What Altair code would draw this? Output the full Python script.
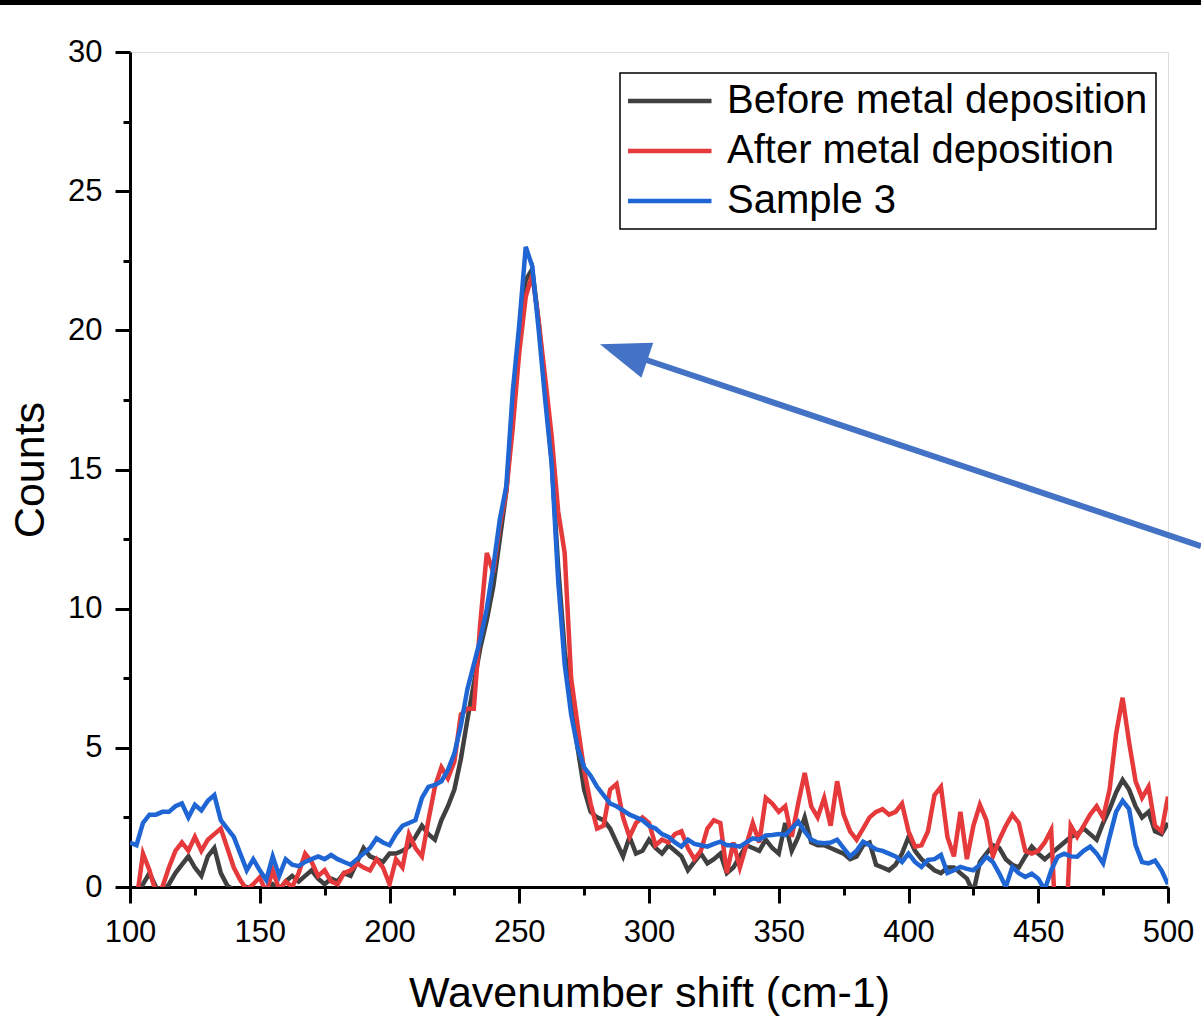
import altair as alt
import pandas as pd

# ---------------- data ----------------
wavenumber = [100 + 2.5 * i for i in range(161)]

before = [
    -0.3, -0.2, 0.1, 0.5, 0.0, -0.2, 0.1, 0.5, 0.8, 1.1,
    0.7, 0.4, 1.1, 1.4, 0.5, 0.05, -0.1, -0.2, 0.0, -0.1,
    -0.3, -0.1, 0.1, -0.1, 0.2, 0.4, 0.2, 0.4, 0.6, 0.3,
    0.1, 0.3, 0.2, 0.5, 0.4, 0.9, 1.4, 1.1, 1.0, 0.9,
    1.2, 1.2, 1.3, 1.45, 1.8, 2.2, 1.9, 1.7, 2.4, 2.9,
    3.5, 4.6, 6.0, 7.3, 8.6, 9.6, 10.8, 12.5, 14.2, 17.0,
    19.8, 21.8, 22.2, 20.3, 17.8, 15.3, 11.5, 8.5, 6.5, 5.0,
    3.5, 2.7, 2.5, 2.4, 2.1, 1.6, 1.1, 1.8, 1.2, 1.3,
    1.7, 1.4, 1.2, 1.5, 1.3, 1.1, 0.6, 0.9, 1.2, 0.85,
    1.0, 1.2, 0.5, 0.7, 1.1, 1.5, 1.4, 1.3, 1.7, 1.4,
    1.2, 2.3, 1.3, 1.8, 2.5, 1.6, 1.5, 1.5, 1.4, 1.3,
    1.2, 1.0, 1.1, 1.5, 1.6, 0.8, 0.7, 0.6, 0.8, 1.2,
    1.8, 1.3, 1.0, 0.8, 0.6, 0.5, 0.7, 0.7, 0.5, 0.3,
    -0.2, 0.9, 1.2, 1.5, 1.4, 1.0, 0.8, 0.7, 1.1, 1.45,
    1.2, 1.0, 1.2, 1.4, 1.6, 1.8, 1.9, 2.1, 1.9, 1.7,
    2.3, 2.8, 3.4, 3.85, 3.5, 2.9, 2.5, 2.7, 2.0, 1.9,
    2.3,
]

after = [
    -1.0, -0.5, 1.2, 0.6, -0.2, 0.0, 0.7, 1.3, 1.6, 1.3,
    1.8, 1.3, 1.7, 1.9, 2.1, 1.4, 0.7, 0.25, -0.1, 0.1,
    0.35, -0.2, 0.6, -0.1, 0.2, 0.0, 0.5, 1.2, 0.9, 0.4,
    0.6, 0.2, 0.1, 0.5, 0.6, 0.85, 0.7, 0.6, 1.0, 0.7,
    0.1, 1.0, 0.7, 1.9, 1.4, 1.1, 2.4, 3.6, 4.3, 3.9,
    4.5, 6.2, 6.4, 6.4, 9.5, 12.0, 11.3, 13.0, 14.2, 16.5,
    19.2, 21.2, 22.0, 20.3, 18.3, 16.2, 13.5, 12.0, 7.5, 5.8,
    4.2, 3.0, 2.1, 2.2, 3.5, 3.7, 2.5, 1.8, 2.3, 2.5,
    2.3, 1.5, 1.7, 1.6, 1.9, 2.0, 1.4, 1.0, 1.3, 2.1,
    2.4, 2.3, 0.5, 1.6, 0.7, 1.5, 2.3, 1.6, 3.2, 3.0,
    2.7, 2.9, 1.8, 3.0, 4.1, 2.9, 2.5, 3.2, 2.2, 3.8,
    2.6, 2.0, 1.7, 2.1, 2.5, 2.7, 2.8, 2.6, 2.7, 3.0,
    2.0, 1.45, 1.5, 2.0, 3.3, 3.6, 1.8, 1.1, 2.7, 1.0,
    2.2, 2.95, 2.4, 1.1, 1.7, 2.2, 2.6, 2.3, 1.3, 1.2,
    1.3, 1.6, 2.05, -3.0, -3.0, 2.2, 1.8, 2.2, 2.6, 2.9,
    2.5, 3.5, 5.5, 6.8, 5.2, 3.8, 3.2, 3.6, 2.2, 2.0,
    3.25,
]

sample3 = [
    1.6, 1.5, 2.3, 2.6, 2.6, 2.7, 2.7, 2.9, 3.0, 2.5,
    2.95, 2.75, 3.1, 3.3, 2.4, 2.1, 1.8, 1.2, 0.6, 1.0,
    0.6, 0.25, 1.1, 0.4, 1.0, 0.8, 0.75, 0.9, 1.0, 1.1,
    1.0, 1.15, 1.0, 0.9, 0.8, 1.0, 1.2, 1.4, 1.75, 1.6,
    1.5, 1.9, 2.2, 2.3, 2.4, 3.2, 3.6, 3.67, 3.8, 4.2,
    4.8, 5.8, 7.1, 8.0, 8.9, 10.0, 11.5, 13.2, 14.4, 17.8,
    20.2, 23.0, 22.3, 20.0, 17.5, 15.2, 11.0, 8.0, 6.2, 5.0,
    4.3, 4.0, 3.6, 3.3, 3.0, 2.9, 2.75, 2.6, 2.5, 2.4,
    2.2, 2.1, 1.9, 1.8, 1.6, 1.45, 1.7, 1.55, 1.5, 1.45,
    1.55, 1.63, 1.5, 1.5, 1.45, 1.6, 1.75, 1.7, 1.85, 1.87,
    1.9, 1.87, 2.1, 2.35, 2.0, 1.7, 1.6, 1.57, 1.6, 1.7,
    1.4, 1.1, 1.3, 1.63, 1.5, 1.35, 1.3, 1.2, 1.1, 0.9,
    1.2, 0.9, 0.72, 0.97, 1.0, 1.15, 0.5, 0.6, 0.72, 0.65,
    0.6, 0.8, 1.09, 0.9, 0.48, 0.0, 0.72, 0.5, 0.36, 0.48,
    0.3, -0.1, 0.6, 1.09, 1.2, 1.1, 1.09, 1.3, 1.45, 1.2,
    0.85, 1.8, 2.7, 3.1, 2.8, 1.5, 0.9, 0.85, 0.95, 0.6,
    0.1,
]

series_names = ["Before metal deposition", "After metal deposition", "Sample 3"]
series_colors = ["#404040", "#e5393b", "#1f66d4"]

x_ticks = [100, 125, 150, 175, 200, 225, 250, 275, 300, 325, 350, 375, 400, 425, 450, 475, 500]
y_ticks = [0, 2.5, 5, 7.5, 10, 12.5, 15, 17.5, 20, 22.5, 25, 27.5, 30]

# annotation arrow (data units)
arrow_tip_x, arrow_tip_y = [281.1], [19.5]
arrow_shaft_x, arrow_shaft_y = [295.0], [19.06]
arrow_tail_x, arrow_tail_y = [512.7], [12.25]

# ---------------- build ----------------
rows = []
for name, vals in zip(series_names, [before, after, sample3]):
    for xv, yv in zip(wavenumber, vals):
        rows.append({"x": xv, "y": yv, "series": name})
df = pd.DataFrame(rows)

FONT = "Liberation Sans"

x_axis = alt.Axis(
    values=x_ticks,
    labelExpr="datum.value % 50 === 0 ? datum.label : ''",
    tickSize={"condition": {"test": "datum.value % 50 === 0", "value": 16}, "value": 8},
    tickWidth=3, tickColor="black", domainColor="black", domainWidth=3,
    labelColor="black", labelFontSize=31, labelPadding=14, labelFlush=False,
    labelOverlap=False, labelFont=FONT,
    title="Wavenumber shift (cm-1)", titleFontSize=43, titleFontWeight="normal",
    titleColor="black", titleFont=FONT, titlePadding=25, grid=False,
)
y_axis = alt.Axis(
    values=y_ticks,
    labelExpr="datum.value % 5 === 0 ? datum.label : ''",
    tickSize={"condition": {"test": "datum.value % 5 === 0", "value": 15}, "value": 7},
    tickWidth=3, tickColor="black", domainColor="black", domainWidth=3,
    labelColor="black", labelFontSize=31, labelPadding=13, labelFlush=False,
    labelOverlap=False, labelFont=FONT,
    title="Counts", titleFontSize=43, titleFontWeight="normal",
    titleColor="black", titleFont=FONT, titlePadding=15, grid=False,
)

x_scale = alt.Scale(domain=[100, 500], nice=False, zero=False)
y_scale = alt.Scale(domain=[0, 30], nice=False, zero=False)

x_enc = alt.X("x:Q", scale=x_scale, axis=x_axis)
y_enc = alt.Y("y:Q", scale=y_scale, axis=y_axis)

color = alt.Color(
    "series:N",
    scale=alt.Scale(domain=series_names, range=series_colors),
    legend=alt.Legend(
        title=None, orient="none", legendX=490, legendY=21,
        symbolType="stroke", symbolSize=8649, symbolStrokeWidth=4.5,
        symbolOffset=-12,
        clipHeight=40, rowPadding=10, labelFontSize=40, labelOffset=13,
        labelLimit=700, padding=8, strokeColor="black", labelColor="black",
        labelFont=FONT,
    ),
)

base = alt.Chart(df).mark_line(strokeWidth=4.5, clip=True).encode(x=x_enc, y=y_enc, color=color)
lines = [base.transform_filter(alt.datum.series == n) for n in series_names]

arrow_df = pd.DataFrame({"x": arrow_shaft_x, "y": arrow_shaft_y, "x2": arrow_tail_x, "y2": arrow_tail_y})
shaft = alt.Chart(arrow_df).mark_rule(color="#4472C4", strokeWidth=6, clip=False).encode(
    x=x_enc, y=y_enc, x2="x2:Q", y2="y2:Q"
)
head_df = pd.DataFrame({"x": arrow_tip_x, "y": arrow_tip_y})
head = alt.Chart(head_df).mark_point(
    shape="M0,0L-0.37,1L0.37,1Z", size=10000, filled=True, color="#4472C4",
    opacity=1, angle=288.66, strokeWidth=0,
).encode(x=x_enc, y=y_enc)

bar_df = pd.DataFrame({"k": [0]})
topbar = alt.Chart(bar_df).mark_rect(color="black").encode(
    x=alt.value(-130), x2=alt.value(1071), y=alt.value(-52), y2=alt.value(-47)
)

chart = alt.layer(*lines, shaft, head, topbar).properties(
    width=1038, height=835,
    autosize=alt.AutoSizeParams(type="none"),
    padding={"left": 130, "top": 52, "right": 33, "bottom": 129},
).configure_view(stroke=None).configure(font=FONT, background="white").configure_legend(strokeWidth=1.5)

chart.save("out.html", embed_options={"renderer": "svg", "actions": False})
